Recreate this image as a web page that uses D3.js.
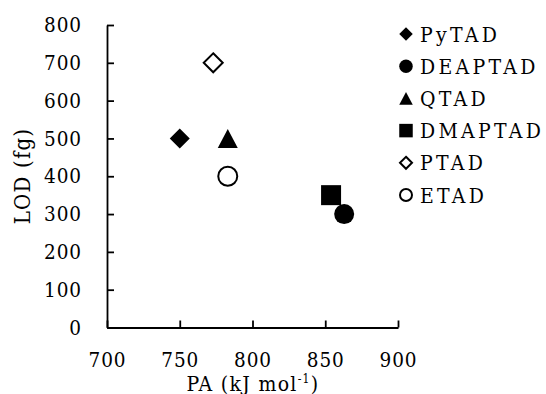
<!DOCTYPE html>
<html>
<head>
<meta charset="utf-8">
<script src="https://cdn.jsdelivr.net/npm/d3@7"></script>
<style>
  html, body { margin: 0; padding: 0; background: #fff; }
  svg { display: block; }
  svg text { font-family: "DejaVu Serif Condensed", "Noto Serif CJK SC", serif; fill: #000; }
</style>
</head>
<body>
<svg id="chart" width="546" height="394"></svg>
<script>
// ---- data ----
const compounds = ["PyTAD", "DEAPTAD", "QTAD", "DMAPTAD", "PTAD", "ETAD"];
const paValues  = [750, 863, 783, 854, 773, 783];
const lodValues = [500, 300, 500, 350, 700, 400];
const markerShapes = ["diamond", "circle", "triangle", "square", "diamond", "circle"];
const markerFilled = [true, true, true, true, false, false];
const xTicks = [700, 750, 800, 850, 900];
const yTicks = [0, 100, 200, 300, 400, 500, 600, 700, 800];

// ---- layout ----
const FONT = '"DejaVu Serif Condensed", "Noto Serif CJK SC", serif';
const svg = d3.select("#chart");
const plotLeft = 107, plotRight = 398, plotTop = 25, plotBottom = 327.5;
const x = d3.scaleLinear().domain([700, 900]).range([plotLeft, plotRight]);
const y = d3.scaleLinear().domain([0, 800]).range([plotBottom, plotTop]);

function shapePath(shape, s) {
  const h = s / 2;
  const p = d3.path();
  if (shape === "diamond") {
    p.moveTo(0, -h); p.lineTo(h, 0); p.lineTo(0, h); p.lineTo(-h, 0); p.closePath();
  } else if (shape === "circle") {
    p.moveTo(h, 0); p.arc(0, 0, h, 0, 2 * Math.PI); p.closePath();
  } else if (shape === "square") {
    p.rect(-h, -h, s, s);
  } else if (shape === "triangle") {
    const th = s * 0.95;
    p.moveTo(0, -th / 2); p.lineTo(h, th / 2); p.lineTo(-h, th / 2); p.closePath();
  }
  return p.toString();
}

// axes
const yAxis = d3.axisLeft(y).tickValues(yTicks).tickSizeInner(-7).tickSizeOuter(0).tickPadding(25);
const xAxis = d3.axisBottom(x).tickValues(xTicks).tickSizeInner(-7).tickSizeOuter(0).tickPadding(25);

const gy = svg.append("g").attr("transform", `translate(${plotLeft},0)`).call(yAxis);
const gx = svg.append("g").attr("transform", `translate(0,${plotBottom})`).call(xAxis);
[gx, gy].forEach(g => {
  g.attr("font-family", FONT);
  g.selectAll("path.domain").attr("stroke", "#000").attr("stroke-width", 1.8);
  g.selectAll(".tick line").attr("stroke", "#000").attr("stroke-width", 1.8);
  g.selectAll(".tick text").attr("font-size", 20.5).attr("letter-spacing", 0.9).attr("fill", "#000");
});

// axis titles
svg.append("text")
  .attr("transform", "translate(30,176) rotate(-90)")
  .attr("text-anchor", "middle")
  .attr("font-size", 22)
  .attr("letter-spacing", 1.2)
  .text("LOD (fg)");

const xt = svg.append("text")
  .attr("x", 253).attr("y", 390.5)
  .attr("text-anchor", "middle")
  .attr("font-size", 21)
  .attr("letter-spacing", 1.3);
xt.append("tspan").text("PA (kJ mol");
xt.append("tspan").attr("font-size", 12).attr("dy", -8).text("-1");
xt.append("tspan").attr("dy", 8).text(")");

// points
const pts = compounds.map((c, i) => ({ name: c, pa: paValues[i], lod: lodValues[i], shape: markerShapes[i], filled: markerFilled[i] }));
svg.append("g").selectAll("path.pt")
  .data(pts).join("path")
  .attr("class", "pt")
  .attr("transform", d => `translate(${x(d.pa)},${y(d.lod)})`)
  .attr("d", d => shapePath(d.shape, d.filled ? 20 : 19))
  .attr("fill", d => d.filled ? "#000" : "#fff")
  .attr("stroke", "#000")
  .attr("stroke-width", d => d.filled ? 0 : 2);

// legend
const leg = svg.append("g");
const rows = leg.selectAll("g").data(pts).join("g")
  .attr("transform", (d, i) => `translate(406,${34 + i * 32.2})`);
rows.append("path")
  .attr("d", d => shapePath(d.shape, d.filled ? 13.5 : 12))
  .attr("fill", d => d.filled ? "#000" : "#fff")
  .attr("stroke", "#000")
  .attr("stroke-width", d => d.filled ? 0 : 2);
rows.append("text")
  .attr("x", 14).attr("y", 0).attr("dy", "0.36em")
  .attr("font-size", 21)
  .attr("letter-spacing", 3.3)
  .text(d => d.name);
</script>
</body>
</html>
